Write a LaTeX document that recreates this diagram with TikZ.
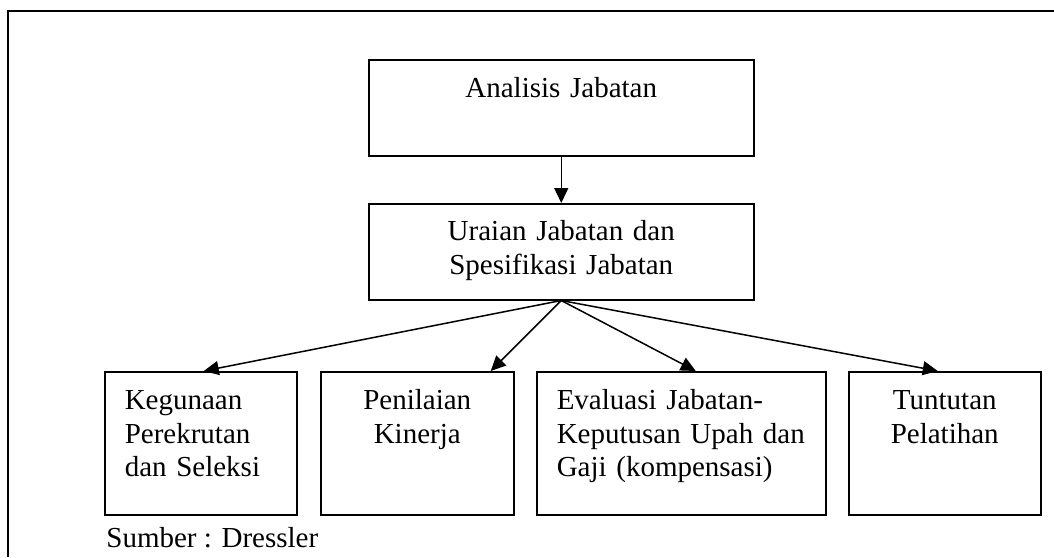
\documentclass[tikz,border=0pt]{standalone}
\usepackage{fontspec}
\setmainfont{Liberation Serif}
\usepackage{tikz}
\usetikzlibrary{shapes,arrows.meta}

\begin{document}
\begin{tikzpicture}[x=0.5pt,y=-0.5pt,
  box/.style={shape=rectangle,draw=black,line width=0.75pt,anchor=north west,inner xsep=10pt,inner ysep=0pt,font=\fontsize{14.5}{16.75}\selectfont},
  link/.style={-{Triangle[length=7.5pt,width=7pt]},draw=black,line width=0.75pt}]
\useasboundingbox (0,0) rectangle (1054,557);
\draw[line width=1pt] (8,557) -- (8,11) -- (1054,11);
\node[box,align=center,text width=172.5pt,text height=19pt,text depth=29pt] (0) at (368,59) {Analisis Jabatan};
\node[box,align=center,text width=172.5pt,text height=18.5pt,text depth=29.5pt] (1) at (368,203) {Uraian Jabatan dan\\Spesifikasi Jabatan};
\node[box,align=left,text width=76pt,text height=19pt,text depth=52.5pt] (2) at (104,371) {Kegunaan\\Perekrutan\\dan Seleksi};
\node[box,align=center,text width=76.5pt,text height=19pt,text depth=52.5pt] (3) at (320,371) {Penilaian\\Kinerja};
\node[box,align=left,text width=124.5pt,text height=19pt,text depth=52.5pt] (4) at (536,371) {Evaluasi Jabatan-\\Keputusan Upah dan\\Gaji (kompensasi)};
\node[box,align=center,text width=76pt,text height=19pt,text depth=52.5pt] (5) at (848,371) {Tuntutan\\Pelatihan};
\node[anchor=base west,inner sep=0pt,font=\fontsize{14.5}{16.75}\selectfont] (6) at (106,547) {Sumber : Dressler};

\path (0) edge[link] node {} (1);
\path (1.south) edge[link] node {} ([xshift=1.5pt]2.north);
\path (1.south) edge[link] node {} ([xshift=36.75pt]3.north);
\path (1.south) edge[link] node {} ([xshift=7.25pt]4.north);
\path (1.south) edge[link] node {} ([xshift=-3.5pt]5.north);
\end{tikzpicture}
\end{document}
